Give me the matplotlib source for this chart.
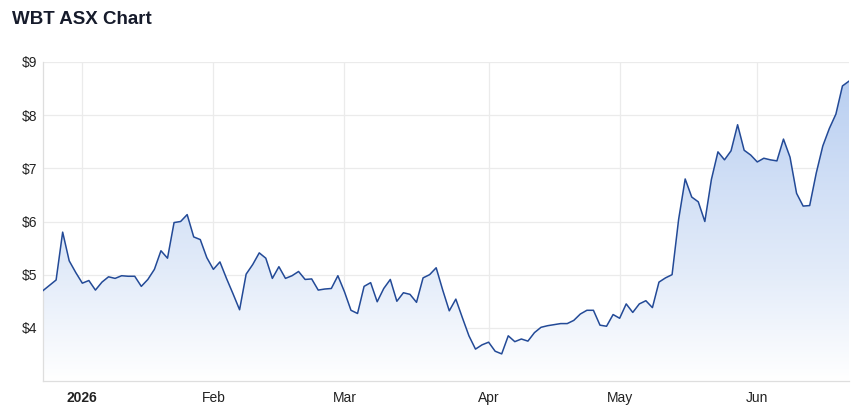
import numpy as np
import pandas as pd
import matplotlib
matplotlib.use("Agg")
import matplotlib.pyplot as plt
from matplotlib.patches import Polygon

plt.rcParams['font.family'] = ['Liberation Sans', 'DejaVu Sans']

# WBT closing prices, one per ASX trading day
prices = [
    4.70, 4.80, 4.90, 5.80, 5.26, 5.04,
    4.84, 4.89, 4.71, 4.86, 4.96, 4.93, 4.98, 4.97, 4.97, 4.78,
    4.91, 5.10, 5.45, 5.31, 5.98, 6.00, 6.13, 5.71, 5.66, 5.32,
    5.10, 5.24, 4.93, 4.64, 4.34, 5.01, 5.19, 5.41, 5.31, 4.93,
    5.15, 4.93, 4.98, 5.06, 4.91, 4.92, 4.71, 4.73, 4.74, 4.98,
    4.68, 4.33, 4.27, 4.78, 4.85, 4.49, 4.74, 4.91, 4.50, 4.66,
    4.63, 4.48, 4.94, 5.00, 5.13, 4.71, 4.32, 4.54, 4.19, 3.85,
    3.60, 3.68, 3.73, 3.56, 3.51, 3.85, 3.74, 3.79, 3.75, 3.91,
    4.01, 4.04, 4.06, 4.08, 4.08, 4.14, 4.26, 4.33, 4.33, 4.05,
    4.03, 4.25, 4.18, 4.45, 4.29, 4.45, 4.51, 4.38, 4.86, 4.94,
    5.00, 6.04, 6.80, 6.46, 6.37, 6.00, 6.79, 7.31, 7.16, 7.33,
    7.82, 7.34, 7.25, 7.12, 7.19, 7.16, 7.14, 7.55, 7.21, 6.53,
    6.29, 6.30, 6.91, 7.42, 7.75, 8.02, 8.55, 8.64,
]

# ASX trading calendar
holidays = ['2025-12-25', '2025-12-26', '2026-01-01', '2026-01-26',
            '2026-04-03', '2026-04-06', '2026-06-08']
dates = pd.bdate_range('2025-12-22', periods=len(prices), freq='C', holidays=holidays)

y_ticks = [4, 5, 6, 7, 8, 9]
y_min, y_max = 3, 9

# first trading day of each month gets a tick
months = pd.Series(dates.to_period('M'))
first_idx = list(months.index[months != months.shift()][1:])
tick_labels = ['2026' if dates[i].month == 1 else dates[i].strftime('%b') for i in first_idx]

x = np.arange(len(prices))
y = np.array(prices)

fig = plt.figure(figsize=(8.58, 4.17), dpi=100)
ax = fig.add_axes([43 / 858, 1 - 381 / 417, 806 / 858, 319 / 417])

# gradient fill under the line
grad = np.linspace(0, 1, 256).reshape(-1, 1)
cmap = matplotlib.colors.LinearSegmentedColormap.from_list(
    'fill', [(0, '#ffffff'), (0.35, '#e2ebf9'), (0.6, '#d2e0f6'), (1, '#b5ccf0')])
img = ax.imshow(grad, cmap=cmap, aspect='auto', origin='lower',
                extent=[x[0], x[-1], y_min, y_max], zorder=1)
verts = np.vstack([[x[0], y_min], np.column_stack([x, y]), [x[-1], y_min]])
clip = Polygon(verts, closed=True, facecolor='none', edgecolor='none')
ax.add_patch(clip)
img.set_clip_path(clip)

ax.plot(x, y, color='#234a97', linewidth=1.1, zorder=3)

ax.set_xlim(x[0], x[-1])
ax.set_ylim(y_min, y_max)
ax.set_yticks(y_ticks)
ax.set_yticklabels([f'${v}' for v in y_ticks])
ax.set_xticks(first_idx)
ax.set_xticklabels(tick_labels)
for lbl in ax.get_xticklabels():
    if lbl.get_text() == '2026':
        lbl.set_fontweight('bold')

ax.grid(True, color='#ebebeb', linewidth=0.9, zorder=0)
ax.set_axisbelow(True)
ax.tick_params(length=0, labelsize=10, colors='#222222')
ax.tick_params(axis='y', pad=4)
ax.tick_params(axis='x', pad=7)
for side in ['top', 'right']:
    ax.spines[side].set_visible(False)
for side in ['left', 'bottom']:
    ax.spines[side].set_color('#dedede')
    ax.spines[side].set_linewidth(0.9)

fig.text(12 / 858, 1 - 19 / 417, 'WBT ASX Chart', fontsize=13.5, fontweight='bold',
         color='#161b2b', va='center', ha='left')

fig.savefig('out.png', dpi=100)
